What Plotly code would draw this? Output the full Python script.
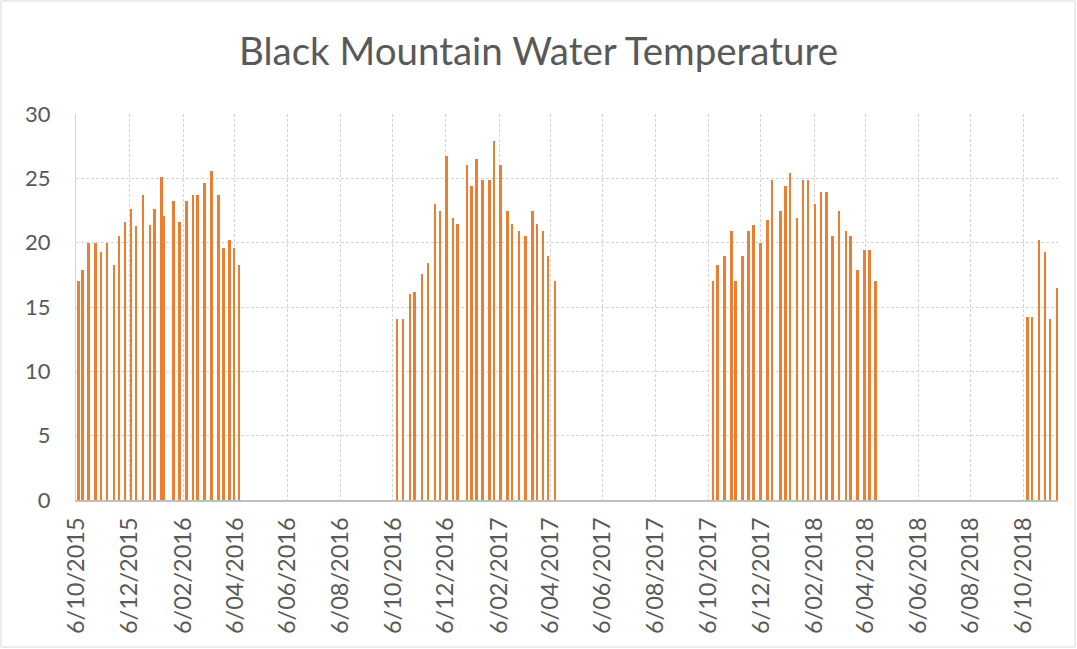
import plotly.graph_objects as go

# Sample dates (d/mm/yyyy)
dates = [
    "2015-10-08", "2015-10-13", "2015-10-20", "2015-10-28", "2015-11-03", "2015-11-10",
    "2015-11-18", "2015-11-24", "2015-12-01", "2015-12-08", "2015-12-14", "2015-12-22",
    "2015-12-30", "2016-01-04", "2016-01-12", "2016-01-15", "2016-01-26", "2016-02-02",
    "2016-02-10", "2016-02-18", "2016-02-23", "2016-03-02", "2016-03-10", "2016-03-18",
    "2016-03-24", "2016-03-31", "2016-04-05", "2016-04-11",
    "2016-10-11", "2016-10-18", "2016-10-26", "2016-10-31", "2016-11-09", "2016-11-16",
    "2016-11-24", "2016-11-30", "2016-12-07", "2016-12-15", "2016-12-20", "2016-12-31",
    "2017-01-05", "2017-01-11", "2017-01-18", "2017-01-26", "2017-01-31", "2017-02-08",
    "2017-02-16", "2017-02-21", "2017-03-01", "2017-03-09", "2017-03-17", "2017-03-22",
    "2017-03-29", "2017-04-04", "2017-04-12",
    "2017-10-12", "2017-10-17", "2017-10-25", "2017-11-02", "2017-11-07", "2017-11-15",
    "2017-11-22", "2017-11-28", "2017-12-06", "2017-12-14", "2017-12-19", "2017-12-29",
    "2018-01-04", "2018-01-09", "2018-01-17", "2018-01-24", "2018-01-30", "2018-02-07",
    "2018-02-14", "2018-02-20", "2018-02-27", "2018-03-07", "2018-03-15", "2018-03-20",
    "2018-03-28", "2018-04-05", "2018-04-11", "2018-04-18",
    "2018-10-11", "2018-10-16", "2018-10-24", "2018-10-31", "2018-11-06", "2018-11-14",
]

temps = [
    17.0, 17.9, 20.0, 20.0, 19.3, 20.0, 18.3, 20.5, 21.6, 22.6, 21.3, 23.7,
    21.4, 22.6, 25.1, 22.1, 23.2, 21.6, 23.2, 23.7, 23.7, 24.6, 25.6, 23.7,
    19.6, 20.2, 19.6, 18.3,
    14.05, 14.05, 16.0, 16.15, 17.55, 18.4, 23.0, 22.5, 26.7, 21.95, 21.45, 26.0,
    24.4, 26.5, 24.9, 24.9, 27.9, 26.0, 22.5, 21.45, 20.9, 20.55, 22.5, 21.45,
    20.9, 19.0, 17.0,
    17.0, 18.25, 18.95, 20.9, 17.0, 18.95, 20.9, 21.4, 20.0, 21.8, 24.9, 22.5,
    24.4, 25.45, 21.95, 24.9, 24.9, 23.0, 23.9, 23.9, 20.5, 22.5, 20.9, 20.5,
    17.9, 19.45, 19.45, 17.0,
    14.2, 14.2, 20.2, 19.3, 14.05, 16.5,
]

tick_vals = [
    "2015-10-06", "2015-12-06", "2016-02-06", "2016-04-06", "2016-06-06", "2016-08-06",
    "2016-10-06", "2016-12-06", "2017-02-06", "2017-04-06", "2017-06-06", "2017-08-06",
    "2017-10-06", "2017-12-06", "2018-02-06", "2018-04-06", "2018-06-06", "2018-08-06",
    "2018-10-06",
]
tick_text = [
    "6/10/2015", "6/12/2015", "6/02/2016", "6/04/2016", "6/06/2016", "6/08/2016",
    "6/10/2016", "6/12/2016", "6/02/2017", "6/04/2017", "6/06/2017", "6/08/2017",
    "6/10/2017", "6/12/2017", "6/02/2018", "6/04/2018", "6/06/2018", "6/08/2018",
    "6/10/2018",
]

TEXT = "#595959"
GRID = "#d4d4d4"
FONT = "Lato, Carlito, 'Liberation Sans', sans-serif"
DAY_MS = 86400000

fig = go.Figure(
    go.Bar(
        x=dates,
        y=temps,
        width=[2.3 * DAY_MS] * len(dates),
        marker=dict(color="#ED7D31", line=dict(width=0)),
        showlegend=False,
    )
)

fig.update_layout(
    width=1077,
    height=649,
    paper_bgcolor="white",
    plot_bgcolor="white",
    margin=dict(l=76, r=19, t=114, b=149, autoexpand=False),
    title=dict(
        text="Black Mountain Water Temperature",
        x=0.5,
        xanchor="center",
        y=0.92,
        yanchor="middle",
        font=dict(family=FONT, size=38.5, color=TEXT),
    ),
    font=dict(family=FONT, color=TEXT),
    bargap=0,
)

fig.update_xaxes(
    type="date",
    range=["2015-10-05", "2018-11-15"],
    tickmode="array",
    tickvals=tick_vals,
    ticktext=tick_text,
    tickangle=-90,
    tickfont=dict(size=23.5, color=TEXT),
    showgrid=True,
    gridcolor=GRID,
    griddash="3px,2px",
    gridwidth=1,
    showline=True,
    linecolor="#bfbfbf",
    linewidth=2,
    ticks="",
    ticklabelstandoff=6,
)

fig.update_yaxes(
    range=[0, 30],
    dtick=5,
    tickfont=dict(size=22, color=TEXT),
    showgrid=True,
    gridcolor=GRID,
    griddash="3px,2px",
    gridwidth=1,
    zeroline=False,
    showline=True,
    linecolor="#d4d4d4",
    linewidth=1,
    ticks="",
    ticklabelstandoff=20,
)

# thin border around the whole chart area
fig.add_shape(
    type="rect",
    xref="paper", yref="paper",
    x0=(1 - 76) / 982, x1=(1075 - 76) / 982,
    y0=(500 - 647) / 386, y1=(500 - 1) / 386,
    line=dict(color="#d9d9d9", width=1),
    fillcolor="rgba(0,0,0,0)",
    layer="below",
)

fig.write_html(
    "out.html",
    config={"displayModeBar": False},
    post_script="document.body.style.margin='0';document.body.style.overflow='hidden';",
)
